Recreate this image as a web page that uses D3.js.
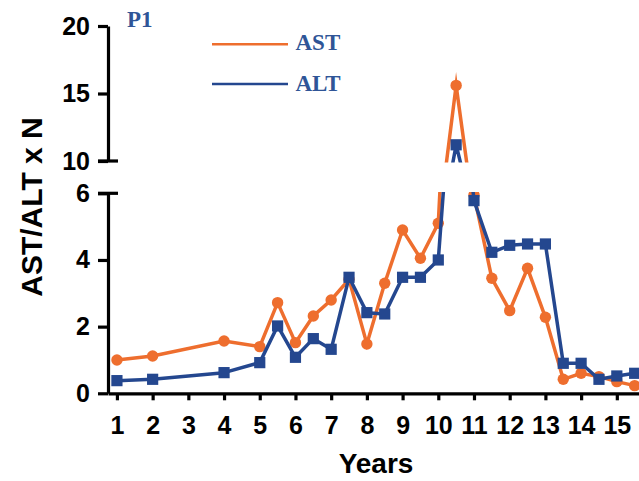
<!DOCTYPE html>
<html>
<head>
<meta charset="utf-8">
<script src="https://cdn.jsdelivr.net/npm/d3@7"></script>
<style>
  html, body { margin: 0; padding: 0; background: #fff; }
  svg { display: block; }
</style>
</head>
<body>
<svg id="chart" width="639" height="481"></svg>
<script>
// Follow-up years and the AST / ALT values (multiples of the upper normal limit)
const years = [1, 2, 4, 5, 5.5, 6, 6.5, 7, 7.5, 8, 8.5, 9, 9.5, 10, 10.5, 11, 11.5, 12, 12.5, 13, 13.5, 14, 14.5, 15, 15.5];
const astValues = [1.0, 1.12, 1.57, 1.4, 2.72, 1.52, 2.32, 2.8, 3.42, 1.48, 3.3, 4.9, 4.05, 5.1, 15.6, 5.95, 3.45, 2.48, 3.75, 2.28, 0.42, 0.6, 0.5, 0.35, 0.23];
const altValues = [0.38, 0.42, 0.62, 0.92, 2.02, 1.08, 1.64, 1.32, 3.48, 2.42, 2.38, 3.48, 3.48, 4.0, 11.2, 5.78, 4.23, 4.44, 4.48, 4.48, 0.9, 0.9, 0.42, 0.52, 0.6];
const xTicks = [1, 2, 3, 4, 5, 6, 7, 8, 9, 10, 11, 12, 13, 14, 15];
const lowerTicks = [0, 2, 4, 6];
const upperTicks = [10, 15, 20];
const panelTitle = "P1";
const seriesNames = ["AST", "ALT"];

const ORANGE = "#EE6E2E";
const BLUE = "#24478F";
const LEGEND_BLUE = "#2F5597";

const svg = d3.select("#chart");

const axisX = 108;
const x = d3.scaleLinear().domain([0.75, 15.75]).range([axisX, 643.6]);
// broken y axis: two segments with their own scales
const yLow = d3.scaleLinear().domain([0, 6]).range([393.3, 193.3]);
const yHigh = d3.scaleLinear().domain([10, 20]).range([161, 26]);

const defs = svg.append("defs");
defs.append("clipPath").attr("id", "clip-high")
  .append("rect").attr("x", 0).attr("y", 0).attr("width", 700).attr("height", 162.5);
defs.append("clipPath").attr("id", "clip-low")
  .append("rect").attr("x", 0).attr("y", 192).attr("width", 700).attr("height", 300);

const rows = years.map((yr, i) => ({ yr, ast: astValues[i], alt: altValues[i] }));

function drawPanel(y, clipId) {
  const g = svg.append("g").attr("clip-path", `url(#${clipId})`);

  const lineAst = d3.line().x(d => x(d.yr)).y(d => y(d.ast));
  const lineAlt = d3.line().x(d => x(d.yr)).y(d => y(d.alt));

  g.append("path").datum(rows)
    .attr("d", lineAst)
    .attr("fill", "none").attr("stroke", ORANGE).attr("stroke-width", 3.5)
    .attr("stroke-linejoin", "miter").attr("stroke-miterlimit", 10);
  g.selectAll("circle.ast").data(rows).join("circle")
    .attr("class", "ast")
    .attr("cx", d => x(d.yr)).attr("cy", d => y(d.ast))
    .attr("r", 5.7).attr("fill", ORANGE);

  g.append("path").datum(rows)
    .attr("d", lineAlt)
    .attr("fill", "none").attr("stroke", BLUE).attr("stroke-width", 3.5)
    .attr("stroke-linejoin", "bevel");
  const s = 11.2;
  g.selectAll("rect.alt").data(rows).join("rect")
    .attr("class", "alt")
    .attr("x", d => x(d.yr) - s / 2).attr("y", d => y(d.alt) - s / 2)
    .attr("width", s).attr("height", s).attr("fill", BLUE);
}

drawPanel(yHigh, "clip-high");
drawPanel(yLow, "clip-low");

// Axes
const tickFont = "'Liberation Sans', Arial, sans-serif";

function styleAxis(g) {
  g.selectAll("path.domain").attr("stroke", "#000").attr("stroke-width", 3.2);
  g.selectAll(".tick line").attr("stroke", "#000").attr("stroke-width", 3.2);
  g.selectAll(".tick text")
    .attr("fill", "#000")
    .style("font-family", tickFont)
    .style("font-weight", "bold")
    .style("font-size", "25px");
}

const gLow = svg.append("g").attr("transform", `translate(${axisX},0)`)
  .call(d3.axisLeft(yLow).tickValues(lowerTicks).tickFormat(d3.format("d"))
    .tickSize(10).tickSizeOuter(0).tickPadding(8));
styleAxis(gLow);

const gHigh = svg.append("g").attr("transform", `translate(${axisX},0)`)
  .call(d3.axisLeft(yHigh).tickValues(upperTicks).tickFormat(d3.format("d"))
    .tickSize(10).tickSizeOuter(0).tickPadding(8));
styleAxis(gHigh);

// caps at both ends of the axis break
[yLow(6), yHigh(10)].forEach(py => {
  svg.append("line")
    .attr("x1", axisX - 10).attr("x2", axisX + 10)
    .attr("y1", py).attr("y2", py)
    .attr("stroke", "#000").attr("stroke-width", 3.2);
});

const gX = svg.append("g").attr("transform", `translate(0,${yLow(0)})`)
  .call(d3.axisBottom(x).tickValues(xTicks).tickFormat(d3.format("d"))
    .tickSize(7).tickSizeOuter(0).tickPadding(16));
styleAxis(gX);

// Axis titles
svg.append("text")
  .attr("x", 376).attr("y", 473)
  .attr("text-anchor", "middle")
  .style("font-family", tickFont).style("font-weight", "bold").style("font-size", "28px")
  .attr("fill", "#000")
  .text("Years");

svg.append("text")
  .attr("transform", "translate(41.5,207) rotate(-90)")
  .attr("text-anchor", "middle")
  .style("font-family", tickFont).style("font-weight", "bold").style("font-size", "30px")
  .attr("fill", "#000")
  .text("AST/ALT x N");

// Panel title and legend
const serif = "'Liberation Serif', 'Times New Roman', serif";
svg.append("text")
  .attr("x", 127).attr("y", 26.7)
  .style("font-family", serif).style("font-weight", "bold").style("font-size", "23px")
  .attr("fill", LEGEND_BLUE)
  .text(panelTitle);

const legendItems = [
  { name: seriesNames[0], color: ORANGE, ly: 44.3, ty: 49.5 },
  { name: seriesNames[1], color: BLUE, ly: 84, ty: 90.8 }
];
legendItems.forEach(it => {
  svg.append("line")
    .attr("x1", 212).attr("x2", 288)
    .attr("y1", it.ly).attr("y2", it.ly)
    .attr("stroke", it.color).attr("stroke-width", 2.4);
  svg.append("text")
    .attr("x", 295.5).attr("y", it.ty)
    .style("font-family", serif).style("font-weight", "bold").style("font-size", "23px")
    .attr("fill", LEGEND_BLUE)
    .text(it.name);
});
</script>
</body>
</html>
